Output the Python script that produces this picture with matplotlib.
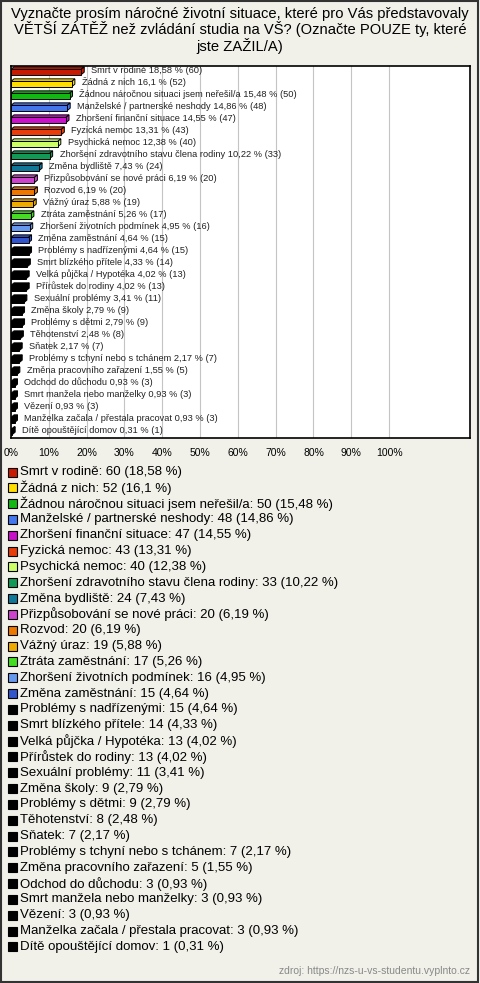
import matplotlib
matplotlib.use('Agg')
import matplotlib.pyplot as plt
from matplotlib.patches import Polygon, Rectangle

plt.rcParams['font.family'] = ['Liberation Sans', 'DejaVu Sans']

# data
names = ['Smrt v rodině', 'Žádná z nich', 'Žádnou náročnou situaci jsem neřešil/a',
         'Manželské / partnerské neshody', 'Zhoršení finanční situace', 'Fyzická nemoc',
         'Psychická nemoc', 'Zhoršení zdravotního stavu člena rodiny', 'Změna bydliště',
         'Přizpůsobování se nové práci', 'Rozvod', 'Vážný úraz', 'Ztráta zaměstnání',
         'Zhoršení životních podmínek', 'Změna zaměstnání', 'Problémy s nadřízenými',
         'Smrt blízkého přítele', 'Velká půjčka / Hypotéka', 'Přírůstek do rodiny',
         'Sexuální problémy', 'Změna školy', 'Problémy s dětmi', 'Těhotenství', 'Sňatek',
         'Problémy s tchyní nebo s tchánem', 'Změna pracovního zařazení', 'Odchod do důchodu',
         'Smrt manžela nebo manželky', 'Vězení', 'Manželka začala / přestala pracovat',
         'Dítě opouštějící domov']
counts = [60, 52, 50, 48, 47, 43, 40, 33, 24, 20, 20, 19, 17, 16, 15, 15, 14, 13, 13,
          11, 9, 9, 8, 7, 7, 5, 3, 3, 3, 3, 1]
percents = [18.58, 16.1, 15.48, 14.86, 14.55, 13.31, 12.38, 10.22, 7.43, 6.19, 6.19, 5.88,
            5.26, 4.95, 4.64, 4.64, 4.33, 4.02, 4.02, 3.41, 2.79, 2.79, 2.48, 2.17, 2.17,
            1.55, 0.93, 0.93, 0.93, 0.93, 0.31]
colors = ['#c81a00', '#ffdd00', '#11b811', '#4477ee', '#c811c8', '#e83c0a', '#ccff66',
          '#119955', '#117799', '#cc44cc', '#ee7700', '#eeaa00', '#44dd22', '#6699ee',
          '#3355cc'] + ['#000000'] * 16
xticks = list(range(0, 101, 10))

W, H = 480, 983
bg = '#f1f1ea'
fig = plt.figure(figsize=(W / 100, H / 100), dpi=100, facecolor=bg)

def fx(px):
    return px / W

def fy(py):
    return 1 - py / H

fig.text(0.5, fy(7), 'Vyznačte prosím náročné životní situace, které pro Vás představovaly\n'
         'VĚTŠÍ ZÁTĚŽ než zvládání studia na VŠ? (Označte POUZE ty, které\njste ZAŽIL/A)',
         ha='center', va='top', fontsize=10.6, linespacing=1.02)

ax = fig.add_axes([fx(11), fy(438), fx(470) - fx(11), fy(66) - fy(438)])
ax.set_facecolor('white')
n = len(names)
ax.set_xlim(0, 121.4)
ax.set_ylim(n - 0.5, -0.5)
for t in xticks:
    ax.axvline(t, color='#c4c4c4', lw=0.8, zorder=0)
ax.set_xticks(xticks)
ax.set_xticklabels([f'{t}%' for t in xticks], fontsize=7.5)
ax.tick_params(axis='x', length=0, pad=7)
ax.set_yticks([])
for s in ax.spines.values():
    s.set_linewidth(1.2)

# pixel -> data sizes for the 3D depth
ppx = ax.get_position().width * W / 121.4
ppy = ax.get_position().height * H / n
dx = 3.0 / ppx
dy = 2.5 / ppy
h = 0.44

ys = list(range(n))
ax.barh(ys, percents, height=h, color=colors, edgecolor='black', linewidth=0.7, zorder=3)
for y, w, c in zip(ys, percents, colors):
    yt, yb = y - h / 2, y + h / 2
    top = Polygon([(0, yt), (w, yt), (w + dx, yt - dy), (dx, yt - dy)], closed=True,
                  facecolor=c, edgecolor='black', lw=0.7, zorder=2)
    side = Polygon([(w, yt), (w, yb), (w + dx, yb - dy), (w + dx, yt - dy)], closed=True,
                   facecolor=c, edgecolor='black', lw=0.7, zorder=2)
    ax.add_patch(top)
    ax.add_patch(side)

for y, name, p, c in zip(ys, names, percents, counts):
    ps = f'{p:g}'.replace('.', ',')
    ax.annotate(f'{name} {ps} % ({c})', (p + dx, y - 0.15), xytext=(5, 0),
                textcoords='offset points', va='center', ha='left', fontsize=6.7,
                color='#222222', zorder=4)

# legend list below the chart
for i, (name, p, c, col) in enumerate(zip(names, percents, counts, colors)):
    yc = 472 + i * 15.83
    fig.patches.append(Rectangle((fx(8), fy(yc + 4.5)), fx(9), fy(0) - fy(9),
                                 transform=fig.transFigure, facecolor=col,
                                 edgecolor='black', lw=0.8))
    ps = f'{p:g}'.replace('.', ',')
    fig.text(fx(20), fy(yc), f'{name}: {c} ({ps} %)', va='center', ha='left', fontsize=9.5)

fig.text(fx(470), fy(971), 'zdroj: https://nzs-u-vs-studentu.vyplnto.cz', ha='right',
         va='center', fontsize=7.5, color='#888888')

fig.patches.append(Rectangle((fx(1), fy(982)), fx(477), fy(0) - fy(981),
                             transform=fig.transFigure, fill=False,
                             edgecolor='#333333', lw=1.5))

fig.savefig('out.png', dpi=100, facecolor=bg)
